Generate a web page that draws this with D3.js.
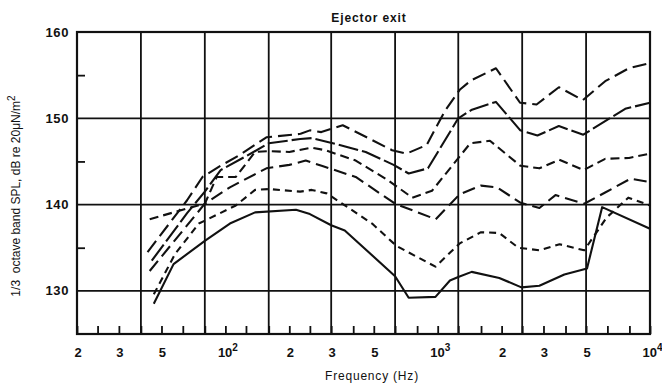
<!DOCTYPE html>
<html><head><meta charset="utf-8">
<script src="https://cdn.jsdelivr.net/npm/d3@7"></script>
<style>
body{margin:0;background:#fff}
svg{display:block;font-family:"Liberation Sans",Arial,Helvetica,sans-serif}
</style>
</head><body>
<svg id="c" width="662" height="389"></svg>
<script>
// 1/3-octave band centre frequencies (minor ticks on the frequency axis)
const bandFreqs = [20,25,31.5,40,50,63,80,100,125,160,200,250,315,400,500,630,800,1000,1250,1600,2000,2500,3150,4000,5000,6300,8000,10000];
// octave grid lines
const gridFreqs = [40,80,160,315,630,1250,2500,5000];
// frequency axis labels
const xLabelFreqs = [20,31.5,50,100,200,315,500,1000,2000,3150,5000,10000];
const xLabelMain  = ["2","3","5","10","2","3","5","10","2","3","5","10"];
const xLabelSup   = ["","","","2","","","","3","","","","4"];
// level axis
const yLabelValues = [130,140,150,160];
const yGridValues = [130,140,150];
const yMinorValues = [135,145,155];

// curves (frequency in Hz, level in dB)
const freqA = [43,66,78,95,116,156,226,250,283,357,610,712,887,1084,1270,1437,1881,2443,2922,3724,4826,6150,7960,10000];
const splA  = [134.5,140.5,143.2,144.5,145.7,147.8,148.2,148.6,148.4,149.2,146.3,145.9,146.9,150.9,153.3,154.4,155.8,151.8,151.6,153.6,152.1,154.3,155.8,156.4];

const freqB = [45,66,80,95,125,160,225,255,310,458,620,730,900,1250,1450,1880,2450,2950,3720,4850,7640,10000];
const splB  = [133.5,139.0,141.5,144.0,145.6,147.1,147.6,147.7,147.2,146.1,144.6,143.6,144.2,150.0,151.0,151.9,148.6,148.0,149.1,148.1,151.1,151.8];

const freqC = [44,65,80,91,112,138,160,200,255,295,411,585,759,940,1424,1762,2450,3013,3740,4870,6150,7960,10000];
const splC  = [138.3,139.5,140.1,143.2,143.2,146.1,146.2,146.1,146.6,146.3,145.1,142.8,140.8,141.6,147.1,147.4,144.5,144.2,145.2,144.0,145.3,145.4,145.9];

const freqD = [44,80,105,156,200,239,284,411,630,979,1270,1600,1900,2460,3013,3588,4900,6150,8100,10000];
const splD  = [132.3,140.1,142.0,144.2,144.6,145.1,144.5,143.2,140.1,138.3,141.2,142.2,142.0,140.2,139.6,141.1,140.1,141.4,143.0,142.6];

const freqE = [46,58,75,112,138,160,225,255,300,491,640,976,1270,1600,1950,2400,3013,3750,4900,6250,7900,10000];
const splE  = [129.6,134.3,137.8,139.9,141.7,141.8,141.5,141.7,141.3,137.8,135.2,132.8,135.5,136.8,136.7,135.0,134.7,135.4,134.7,138.5,140.8,139.9];

const freqF = [46,57,80,105,138,215,250,315,365,630,730,976,1142,1250,1446,1950,2480,3013,3950,5050,5950,10000];
const splF  = [128.5,133.1,135.8,137.8,139.1,139.4,138.9,137.6,137.0,131.7,129.2,129.3,131.2,131.6,132.2,131.5,130.4,130.6,131.9,132.6,139.7,137.2];

const series = [
  {f:freqA, v:splA, dash:"14,6"},
  {f:freqB, v:splB, dash:"20,4"},
  {f:freqC, v:splC, dash:"9,5"},
  {f:freqD, v:splD, dash:"13,6"},
  {f:freqE, v:splE, dash:"7,5"},
  {f:freqF, v:splF, dash:null}
];

const svg = d3.select("#c");
const x = d3.scaleLog().domain([20,10000]).range([77,650]);
const y = d3.scaleLinear().domain([125,160]).range([334,32]);
const ink = "#111";

// vertical octave grid
svg.append("g").selectAll("line").data(gridFreqs).join("line")
  .attr("x1",d=>x(d)).attr("x2",d=>x(d))
  .attr("y1",y(160)).attr("y2",y(125))
  .attr("stroke",ink).attr("stroke-width",1.8);

// horizontal grid
svg.append("g").selectAll("line").data(yGridValues).join("line")
  .attr("x1",x(20)).attr("x2",x(10000))
  .attr("y1",d=>y(d)).attr("y2",d=>y(d))
  .attr("stroke",ink).attr("stroke-width",1.8);

// bottom minor ticks (inward)
svg.append("g").attr("transform",`translate(0,${y(125)})`)
  .call(d3.axisBottom(x).tickValues(bandFreqs).tickSize(-8).tickFormat(""))
  .call(g=>g.select(".domain").remove())
  .call(g=>g.selectAll("line").attr("stroke",ink).attr("stroke-width",1.8));

// left minor ticks (inward)
svg.append("g").attr("transform",`translate(${x(20)},0)`)
  .call(d3.axisLeft(y).tickValues(yMinorValues).tickSize(-8).tickFormat(""))
  .call(g=>g.select(".domain").remove())
  .call(g=>g.selectAll("line").attr("stroke",ink).attr("stroke-width",1.8));

// frame
svg.append("rect")
  .attr("x",x(20)).attr("y",y(160))
  .attr("width",x(10000)-x(20)).attr("height",y(125)-y(160))
  .attr("fill","none").attr("stroke",ink).attr("stroke-width",2.2);

// curves
const line = d3.line().x(d=>x(d[0])).y(d=>y(d[1]));
svg.append("g").selectAll("path").data(series).join("path")
  .attr("d",s=>line(s.f.map((f,i)=>[f,s.v[i]])))
  .attr("fill","none").attr("stroke",ink).attr("stroke-width",2.1)
  .attr("stroke-linejoin","round")
  .attr("stroke-dasharray",s=>s.dash);

// y tick labels
svg.append("g").selectAll("text").data(yLabelValues).join("text")
  .attr("x",69).attr("y",d=>y(d)+4.6)
  .attr("text-anchor","end")
  .attr("font-size",13).attr("font-weight","bold").attr("letter-spacing",0.6)
  .attr("fill",ink).text(d=>d);

// x tick labels
const xl = svg.append("g").selectAll("text").data(xLabelFreqs).join("text")
  .attr("x",(d,i)=> xLabelSup[i] ? x(d)-7.5 : x(d)+1)
  .attr("y",357)
  .attr("text-anchor",(d,i)=> xLabelSup[i] ? "start" : "middle")
  .attr("font-size",13).attr("font-weight","bold")
  .attr("fill",ink);
xl.append("tspan").text((d,i)=>xLabelMain[i]);
xl.append("tspan").attr("dy",-6).attr("font-size",10).text((d,i)=>xLabelSup[i]);

// title
svg.append("text").attr("x",369).attr("y",22).attr("text-anchor","middle")
  .attr("font-size",12).attr("letter-spacing",0.9).attr("font-weight","bold")
  .attr("fill",ink).text("Ejector exit");

// x title
svg.append("text").attr("x",372).attr("y",380).attr("text-anchor","middle")
  .attr("font-size",12).attr("letter-spacing",0.8)
  .attr("fill",ink).text("Frequency (Hz)");

// y title
const yt = svg.append("text")
  .attr("transform","translate(20,196) rotate(-90)")
  .attr("text-anchor","middle").attr("font-size",12)
  .attr("fill",ink).style("white-space","pre");
yt.append("tspan").text("1/3  octave band SPL, dB re 20\u03bcN/m");
yt.append("tspan").attr("dy",-5).attr("font-size",10).text("2");
</script>
</body></html>
